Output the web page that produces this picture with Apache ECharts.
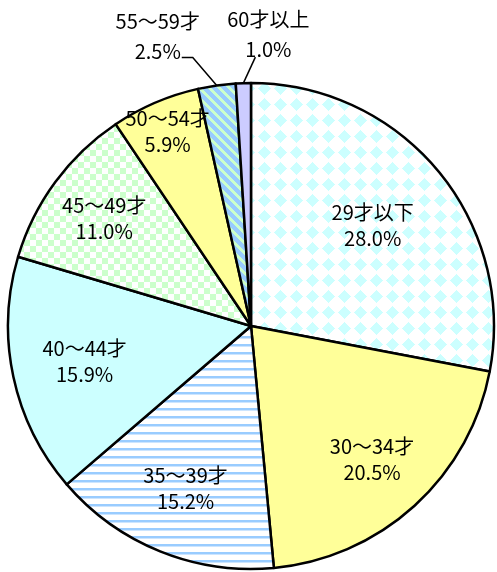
<!DOCTYPE html>
<html>
<head>
<meta charset="utf-8">
<script src="https://cdn.jsdelivr.net/npm/echarts@6/dist/echarts.min.js"></script>
<style>
  html, body { margin: 0; padding: 0; background: #fff; }
  #main { width: 497px; height: 572px; }
</style>
</head>
<body>
<div id="main"></div>
<script>
// 年齢構成（時計回り、12時から）
const categories = ['29才以下', '30～34才', '35～39才', '40～44才', '45～49才', '50～54才', '55～59才', '60才以上']
const shares = [28.0, 20.5, 15.2, 15.9, 11.0, 5.9, 2.5, 1.0]

// 見た目の設定
const CX = 251
const CY = 326
const R = 243
// 内側ラベルの中心までの距離（半径比）
const labelRatio = [0.65, 0.74, 0.72, 0.70, 0.75, 0.87]

// 塗りパターンを canvas で作る
function tile (size, pick) {
  const c = document.createElement('canvas')
  c.width = size
  c.height = size
  const ctx = c.getContext('2d')
  for (let y = 0; y < size; y++) {
    for (let x = 0; x < size; x++) {
      ctx.fillStyle = pick(x, y)
      ctx.fillRect(x, y, 1, 1)
    }
  }
  return { image: c, repeat: 'repeat' }
}

const diamond = tile(16, (x, y) => (Math.abs(x - 8) + Math.abs(y - 8) <= 6 ? '#ccffff' : '#ffffff'))
const hStripe = tile(8, (x, y) => (y < 2 ? '#99ccff' : (y === 2 ? '#cce5ff' : '#ffffff')))
const checker = tile(12, (x, y) => ((x < 6) === (y < 6) ? '#ccffcc' : '#ffffff'))
const diag = tile(10, (x, y) => (((x - y + 20) % 10) < 4 ? '#ccffcc' : '#99ccff'))

const fills = [diamond, '#ffff99', hStripe, '#ccffff', checker, '#ffff99', diag, '#ccccff']

// 累積から各扇形の中央角（上から時計回り、ラジアン）
const total = shares.reduce((a, b) => a + b, 0)
const midAngles = []
let acc = 0
shares.forEach(v => {
  midAngles.push((acc + v / 2) / total * Math.PI * 2)
  acc += v
})

function polar (ratio, a) {
  return [CX + ratio * R * Math.sin(a), CY - ratio * R * Math.cos(a)]
}

// 外側ラベル（55～59才, 60才以上）の配置：扇形の縁からのずれ
const outerLabel = {
  6: { text: [-59, -49], line: [[-24, -28], [-35, -28]] },
  7: { text: [25, -49], line: [[12, -26]] }
}

const chart = echarts.init(document.getElementById('main'))

const option = {
  backgroundColor: '#ffffff',
  animation: false,
  series: [
    {
      type: 'pie',
      center: [CX, CY],
      radius: R,
      startAngle: 90,
      clockwise: true,
      avoidLabelOverlap: false,
      itemStyle: {
        borderColor: '#000000',
        borderWidth: 2.5
      },
      label: {
        show: true,
        position: 'inside',
        color: '#000000',
        fontFamily: '"Noto Sans CJK JP", sans-serif',
        fontSize: 20,
        lineHeight: 26,
        formatter: p => p.name + '\n' + p.value.toFixed(1) + '%'
      },
      labelLine: {
        show: false,
        lineStyle: { color: '#000000', width: 1.5 }
      },
      emphasis: { disabled: true },
      data: categories.map((name, i) => {
        const item = {
          name,
          value: shares[i],
          itemStyle: { color: fills[i] }
        }
        if (outerLabel[i]) {
          item.label = { position: 'outside', lineHeight: 30 }
          item.labelLine = { show: true, length: 20, length2: 10 }
        }
        return item
      }),
      labelLayout: params => {
        const i = params.dataIndex
        const a = midAngles[i]
        if (outerLabel[i]) {
          const edge = polar(1, a)
          const o = outerLabel[i]
          return {
            x: edge[0] + o.text[0],
            y: edge[1] + o.text[1],
            align: 'center',
            verticalAlign: 'middle',
            labelLinePoints: [edge].concat(o.line.map(d => [edge[0] + d[0], edge[1] + d[1]]))
          }
        }
        const p = polar(labelRatio[i], a)
        return {
          x: p[0],
          y: p[1],
          align: 'center',
          verticalAlign: 'middle'
        }
      }
    }
  ]
}

chart.setOption(option)
</script>
</body>
</html>
